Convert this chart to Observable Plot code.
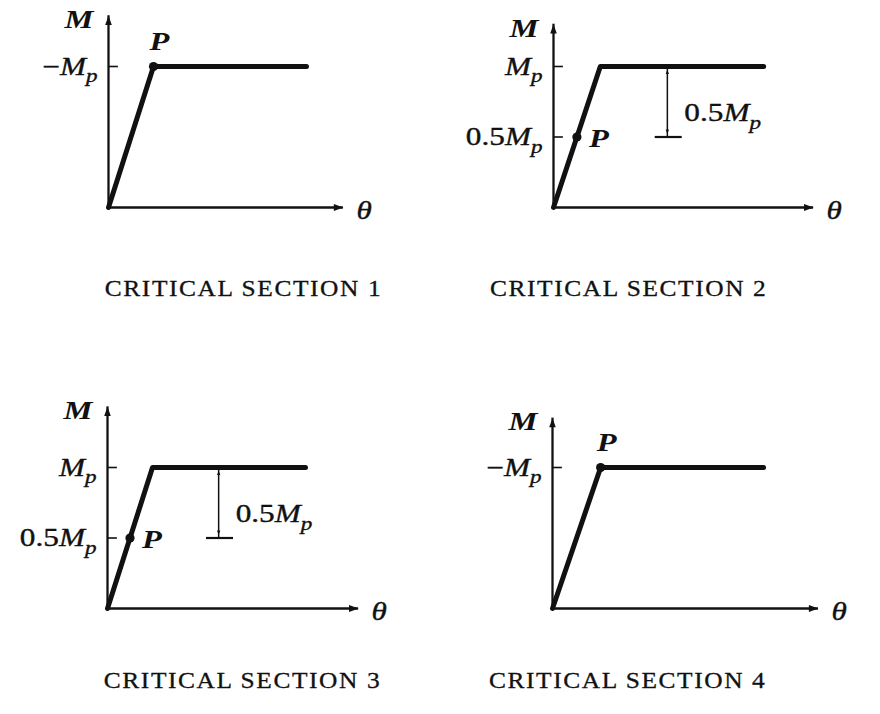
<!DOCTYPE html>
<html><head><meta charset="utf-8">
<script src="https://cdn.jsdelivr.net/npm/d3@7"></script>
<script src="https://cdn.jsdelivr.net/npm/@observablehq/plot@0.6"></script>
<style>
body{margin:0;background:#fff;}
#chart{position:relative;width:880px;height:714px;overflow:hidden;background:#fff;}
#chart svg{position:absolute;}
</style></head><body><div id="chart"></div>
<script>
// ---- data (θ in units of yield rotation, M in units of Mp) ----
const captions = ["CRITICAL SECTION 1", "CRITICAL SECTION 2", "CRITICAL SECTION 3", "CRITICAL SECTION 4"];
const kneeTheta = [1.0, 1.04, 1.0, 1.07];
const plateauEndTheta = [4.4, 4.67, 4.4, 4.69];
const plasticMoment = [1, 1, 1, 1];
const pointPMoment = [1, 0.5, 0.5, 1];
const axisTopM = [1.36, 1.30, 1.43, 1.35];
const axisEndTheta = [5.22, 5.78, 5.58, 5.91];
const tickValues = [[1], [1, 0.5], [1, 0.5], [1]];
const tickLabels = [["−M_p"], ["M_p", "0.5M_p"], ["M_p", "0.5M_p"], ["−M_p"]];
const dropTheta = [null, 2.53, 2.47, null];
const dropAmount = [null, 0.5, 0.5, null];
const dropLabels = [null, "0.5M_p", "0.5M_p", null];
const axisLabelY = "M";
const axisLabelX = "θ";
const pointLabel = "P";

// ---- layout ----
const layout = [
  {left: 0, top: 0, h: 357, capX: 3.0, capY: -0.574},
  {left: 445, top: 0, h: 357, capX: 1.67, capY: -0.574},
  {left: -1, top: 401, h: 313, capX: 3.0, capY: -0.51},
  {left: 444, top: 401, h: 313, capX: 1.67, capY: -0.51}
];
const PX_X = 45, PX_Y = 141, OX = 108, OY = 207, W = 435;
const INK = "#111";
const LABEL_STRETCH = 1.25, CAPTION_STRETCH = 1.13;

const arrowHead = {draw(context, size) {
  const r = Math.sqrt(size / Math.PI);
  const L = r * 2.0, w = r * 0.72;
  context.moveTo(0, 0);
  context.lineTo(w, L);
  context.lineTo(-w, L);
  context.closePath();
}};

function richText(el) {
  const s = el.textContent;
  const isCaption = /CRITICAL/.test(s);
  const tr = el.getAttribute("transform") || "";
  el.setAttribute("transform", tr + ` scale(${isCaption ? CAPTION_STRETCH : LABEL_STRETCH},1)`);
  if (isCaption) return;
  el.textContent = "";
  let sub = false;
  const runs = [];
  for (const ch of s) {
    if (ch === "_") { sub = true; continue; }
    const italic = /[A-Za-zθ]/.test(ch);
    const last = runs[runs.length - 1];
    if (last && last.italic === italic && last.sub === sub) last.t += ch;
    else runs.push({t: ch, italic, sub});
  }
  for (const r of runs) {
    const ts = document.createElementNS("http://www.w3.org/2000/svg", "tspan");
    ts.textContent = r.t;
    ts.setAttribute("font-style", r.italic ? "italic" : "normal");
    if (r.sub) { ts.setAttribute("font-size", "0.74em"); ts.setAttribute("dy", "0.42em"); }
    el.appendChild(ts);
  }
}

const chart = document.getElementById("chart");
captions.forEach((cap, i) => {
  const L = layout[i];
  const knee = kneeTheta[i], mp = plasticMoment[i];
  const curve = [{t: 0, m: 0}, {t: knee, m: mp}, {t: plateauEndTheta[i], m: mp}];
  const pm = pointPMoment[i];
  const P = [{t: knee * pm / mp, m: pm}];
  const atKnee = pm === mp;
  const ticks = tickValues[i].map((v, k) => ({v, label: tickLabels[i][k]}));
  const txt = {fill: INK, stroke: INK, strokeWidth: 0.35};
  const marks = [
    Plot.ruleX([0], {y1: 0, y2: axisTopM[i], stroke: INK, strokeWidth: 2.3}),
    Plot.ruleY([0], {x1: 0, x2: axisEndTheta[i], stroke: INK, strokeWidth: 2.5}),
    Plot.dot([{t: 0, m: axisTopM[i]}], {x: "t", y: "m", symbol: arrowHead, r: 4.6, fill: INK, stroke: null, rotate: 0}),
    Plot.dot([{t: axisEndTheta[i], m: 0}], {x: "t", y: "m", symbol: arrowHead, r: 4.8, fill: INK, stroke: null, rotate: 90}),
    Plot.ruleY(ticks, {y: "v", x1: 0, x2: 0.22, stroke: INK, strokeWidth: 1.6}),
    Plot.line(curve, {x: "t", y: "m", stroke: INK, strokeWidth: 5, strokeLinejoin: "round"}),
    Plot.dot(P, {x: "t", y: "m", r: 4.6, fill: INK, stroke: null}),
    Plot.text(P, {x: "t", y: "m", text: () => pointLabel, dx: atKnee ? 6 : 22, dy: atKnee ? -25 : 2, fontSize: 26, fontWeight: "bold", ...txt, strokeWidth: 0}),
    Plot.text(ticks, {x: () => 0, y: "v", text: "label", textAnchor: "end", dx: -11, fontSize: 25, ...txt}),
    Plot.text([axisLabelY], {x: () => 0, y: () => axisTopM[i], text: d => d, textAnchor: "end", dx: -15, dy: 4, fontSize: 26, fontWeight: "bold", ...txt, strokeWidth: 0}),
    Plot.text([axisLabelX], {x: () => axisEndTheta[i], y: () => 0, text: d => d, textAnchor: "start", dx: 13, dy: 3, fontSize: 25, ...txt}),
    Plot.text([cap], {x: () => L.capX, y: () => L.capY, text: d => d, fontSize: 22.5, ...txt, strokeWidth: 0.3})
  ];
  if (dropTheta[i] != null) {
    const d = dropTheta[i], lo = mp - dropAmount[i];
    marks.push(
      Plot.ruleX([d], {y1: lo, y2: mp, stroke: INK, strokeWidth: 1.5}),
      Plot.ruleY([lo], {x1: d - 0.27, x2: d + 0.33, stroke: INK, strokeWidth: 2.2}),
      Plot.dot([{t: d, m: mp}], {x: "t", y: "m", symbol: arrowHead, r: 2.3, fill: INK, stroke: null, rotate: 0, dy: 3}),
      Plot.dot([{t: d, m: lo}], {x: "t", y: "m", symbol: arrowHead, r: 2.3, fill: INK, stroke: null, rotate: 180, dy: -3}),
      Plot.text([dropLabels[i]], {x: () => d, y: () => mp - dropAmount[i] / 2, text: v => v, textAnchor: "start", dx: 17, dy: 11, fontSize: 25, ...txt})
    );
  }
  const svg = Plot.plot({
    width: W, height: L.h, margin: 0,
    x: {domain: [-OX / PX_X, (W - OX) / PX_X], axis: null},
    y: {domain: [-(L.h - OY) / PX_Y, OY / PX_Y], axis: null},
    style: {fontFamily: "'Liberation Serif', serif", background: "transparent", overflow: "visible"},
    marks
  });
  svg.style.left = L.left + "px";
  svg.style.top = L.top + "px";
  d3.select(svg).selectAll("text").each(function() { richText(this); });
  d3.select(svg).selectAll("text").filter(function() { return /CRITICAL/.test(this.textContent); })
    .attr("letter-spacing", "1.4px");
  chart.appendChild(svg);
});
</script>
</body></html>
